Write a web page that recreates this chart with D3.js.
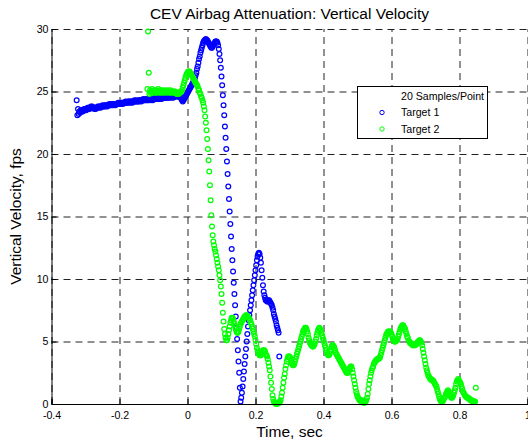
<!DOCTYPE html>
<html>
<head>
  <meta charset="utf-8">
  <title>CEV Airbag Attenuation</title>
  <script src="https://cdn.jsdelivr.net/npm/d3@7"></script>
  <style>
    body { margin: 0; background: #fff; }
    text { font-family: "Liberation Sans", Arial, sans-serif; }
  </style>
</head>
<body>
<script>
  // sample clock (s) and velocities (fps), one value every 2 ms
  var blueStart = -0.326;
  var greenStart = -0.118;
  var sampleStep = 0.002;

  var target1 = [
    24.3, 23.1, 23.6, 23.2, 23.4, 23.3, 23.5, 23.4, 23.5, 23.4,
    23.5, 23.6, 23.5, 23.6, 23.5, 23.6, 23.7, 23.6, 23.7, 23.6,
    23.7, 23.8, 23.7, 23.8, 23.7, 23.7, 23.6, 23.7, 23.6, 23.7,
    23.7, 23.8, 23.7, 23.8, 23.8, 23.7, 23.8, 23.8, 23.9, 23.8,
    23.8, 23.9, 23.8, 23.9, 23.9, 23.8, 23.9, 23.9, 24.0, 23.9,
    23.9, 24.0, 23.9, 24.0, 23.9, 24.0, 24.0, 23.9, 24.0, 24.0,
    24.0, 24.1, 24.0, 24.0, 24.1, 24.0, 24.1, 24.1, 24.0, 24.1,
    24.1, 24.1, 24.2, 24.1, 24.1, 24.2, 24.1, 24.2, 24.2, 24.1,
    24.2, 24.2, 24.1, 24.2, 24.2, 24.3, 24.2, 24.2, 24.3, 24.2,
    24.2, 24.3, 24.2, 24.3, 24.3, 24.2, 24.3, 24.3, 24.4, 24.3,
    24.3, 24.3, 24.4, 24.3, 24.3, 24.4, 24.3, 24.4, 24.4, 24.3,
    24.4, 24.4, 24.3, 24.4, 24.4, 24.5, 24.4, 24.4, 24.5, 24.4,
    24.4, 24.5, 24.4, 24.5, 24.5, 24.4, 24.5, 24.5, 24.6, 24.5,
    24.5, 24.5, 24.6, 24.5, 24.5, 24.6, 24.5, 24.6, 24.6, 24.5,
    24.6, 24.6, 24.5, 24.6, 24.6, 24.7, 24.6, 24.6, 24.7, 24.6,
    24.6, 24.7, 24.6, 24.5, 24.4, 24.3, 24.2, 24.3, 24.4, 24.5,
    24.6, 24.7, 24.8, 24.9, 25.0, 25.1, 25.2, 25.3, 25.4, 25.5,
    25.6, 25.7, 25.8, 25.9, 26.1, 26.3, 26.5, 26.8, 27.0, 27.3,
    27.6, 27.8, 28.1, 28.3, 28.5, 28.7, 28.9, 29.0, 29.1, 29.1,
    29.2, 29.1, 29.1, 29.0, 28.9, 28.8, 28.7, 28.6, 28.5, 28.5,
    28.6, 28.7, 28.8, 28.9, 29.0, 29.0, 29.0, 28.9, 28.7, 28.4,
    28.0, 27.5, 26.9, 26.2, 25.5, 24.7, 23.9, 23.1, 22.2, 21.3,
    20.4, 19.4, 18.4, 17.4, 16.4, 15.4, 14.4, 13.4, 12.4, 11.5,
    10.6, 9.7, 8.8, 7.9, 7.0, 6.1, 5.2, 4.3, 3.4, 2.5,
    1.3, 0.2, 0.5, 0.9, 1.4, 2.0, 2.6, 3.2, 3.8, 4.4,
    5.0, 5.6, 6.2, 6.7, 7.1, 7.5, 7.9, 8.3, 8.7, 9.1,
    9.5, 9.9, 10.3, 10.7, 11.1, 11.5, 11.8, 12.0, 12.1, 12.0,
    11.7, 11.3, 10.7, 10.1, 9.5, 9.0, 8.7, 8.5, 8.3, 8.3,
    8.2, 8.2, 8.3, 8.3, 8.2, 8.1, 8.0, 7.9, 7.7, 7.5,
    7.2, 7.0, 6.8, 6.6, 6.3, 6.1, 5.9, 5.7, 3.8
  ];

  var target2 = [
    25.2, 29.8, 26.5, 24.8, 25.1, 24.9, 25.0, 25.2, 24.9, 25.0,
    25.1, 24.9, 25.0, 25.1, 24.9, 25.0, 25.2, 25.0, 24.9, 25.1,
    25.0, 24.9, 25.1, 25.0, 24.9, 25.0, 25.1, 25.0, 24.9, 25.0,
    25.1, 25.0, 24.9, 25.0, 25.1, 24.9, 25.0, 25.0, 24.9, 25.0,
    24.9, 25.0, 24.9, 24.8, 24.9, 24.9, 24.8, 24.9, 24.9, 25.0,
    25.0, 25.1, 25.3, 25.5, 25.7, 25.9, 26.1, 26.3, 26.4, 26.5,
    26.6, 26.6, 26.6, 26.5, 26.4, 26.3, 26.2, 26.1, 26.0, 25.9,
    25.8, 25.7, 25.6, 25.5, 25.4, 25.2, 25.1, 24.9, 24.8, 24.6,
    24.5, 24.3, 24.1, 23.8, 23.5, 23.0, 22.5, 21.9, 21.2, 20.4,
    19.5, 18.6, 17.5, 16.3, 15.1, 14.2, 13.5, 13.0, 12.7, 12.4,
    12.2, 11.9, 11.6, 11.3, 11.0, 10.7, 10.3, 9.9, 9.4, 8.8,
    8.1, 7.3, 6.6, 6.0, 5.6, 5.3, 5.1, 5.1, 5.3, 5.6,
    5.9, 6.2, 6.5, 6.7, 6.9, 6.9, 6.8, 6.6, 6.4, 6.2,
    6.0, 5.8, 5.7, 5.7, 5.8, 6.0, 6.2, 6.4, 6.5, 6.6,
    6.7, 6.8, 6.9, 7.0, 7.0, 7.1, 7.1, 7.0, 7.0, 6.9,
    6.8, 6.7, 6.5, 6.4, 6.2, 6.0, 5.8, 5.6, 5.4, 5.1,
    4.8, 4.5, 4.3, 4.1, 4.0, 3.9, 3.9, 3.9, 4.0, 4.1,
    4.3, 4.3, 4.3, 4.2, 4.0, 3.9, 3.8, 3.6, 3.3, 3.0,
    2.7, 2.2, 1.7, 1.2, 0.7, 0.4, 0.2, 0.1, 0.1, 0.0,
    0.1, 0.0, 0.1, 0.1, 0.1, 0.2, 0.3, 0.6, 0.9, 1.3,
    1.7, 2.1, 2.4, 2.8, 3.1, 3.4, 3.6, 3.8, 3.8, 3.8,
    3.7, 3.5, 3.3, 3.2, 3.1, 3.1, 3.2, 3.4, 3.6, 3.8,
    4.0, 4.2, 4.4, 4.6, 4.8, 5.0, 5.2, 5.4, 5.6, 5.8,
    5.9, 6.0, 6.1, 6.1, 6.0, 5.8, 5.6, 5.3, 5.1, 4.9,
    4.8, 4.7, 4.7, 4.6, 4.6, 4.7, 4.8, 5.0, 5.2, 5.5,
    5.7, 5.9, 6.0, 6.1, 6.0, 5.9, 5.7, 5.5, 5.3, 5.1,
    4.9, 4.7, 4.5, 4.3, 4.1, 4.0, 3.9, 3.9, 4.0, 4.2,
    4.4, 4.6, 4.7, 4.7, 4.6, 4.5, 4.3, 4.1, 4.0, 3.9,
    3.8, 3.7, 3.6, 3.5, 3.4, 3.3, 3.2, 3.1, 3.0, 2.9,
    2.8, 2.7, 2.6, 2.5, 2.5, 2.5, 2.6, 2.8, 2.9, 3.0,
    3.0, 2.8, 2.5, 2.2, 1.9, 1.6, 1.3, 1.0, 0.8, 0.6,
    0.5, 0.4, 0.3, 0.3, 0.2, 0.2, 0.3, 0.2, 0.1, 0.1,
    0.2, 0.2, 0.3, 0.5, 0.8, 1.2, 1.6, 1.9, 2.2, 2.5,
    2.7, 2.9, 3.0, 3.2, 3.3, 3.4, 3.5, 3.5, 3.6, 3.6,
    3.6, 3.7, 3.7, 3.9, 4.1, 4.3, 4.5, 4.7, 4.9, 5.1,
    5.3, 5.5, 5.6, 5.7, 5.8, 5.8, 5.8, 5.8, 5.7, 5.6,
    5.4, 5.2, 5.1, 5.0, 5.0, 5.0, 5.1, 5.1, 5.2, 5.4,
    5.6, 5.8, 6.0, 6.1, 6.2, 6.3, 6.3, 6.2, 6.1, 6.0,
    5.8, 5.6, 5.4, 5.3, 5.1, 5.0, 4.9, 4.9, 4.8, 4.8,
    4.7, 4.7, 4.7, 4.7, 4.7, 4.8, 4.8, 4.9, 5.0, 5.0,
    5.1, 5.1, 5.0, 4.9, 4.7, 4.4, 4.1, 3.8, 3.5, 3.2,
    2.9, 2.7, 2.5, 2.3, 2.2, 2.1, 2.0, 2.0, 1.9, 1.9,
    1.9, 1.8, 1.7, 1.6, 1.5, 1.4, 1.2, 1.0, 0.8, 0.6,
    0.4, 0.3, 0.2, 0.2, 0.2, 0.3, 0.4, 0.5, 0.6, 0.8,
    0.9, 1.0, 1.1, 1.0, 0.9, 0.7, 0.6, 0.5, 0.5, 0.6,
    0.7, 0.9, 1.1, 1.3, 1.6, 1.8, 1.9, 2.0, 1.9, 1.8,
    1.7, 1.6, 1.4, 1.2, 1.0, 0.9, 0.8, 0.7, 0.6, 0.6,
    0.5, 0.5, 0.5, 0.4, 0.4, 0.3, 0.3, 0.3, 0.2, 0.2,
    0.2, 0.2, 0.2, 1.3
  ];

  var xTicks = [-0.4, -0.2, 0, 0.2, 0.4, 0.6, 0.8, 1];
  var yTicks = [0, 5, 10, 15, 20, 25, 30];
  var legendLabels = ["20 Samples/Point", "Target 1", "Target 2"];

  var width = 528;
  var height = 442;
  var plotLeft = 51.5, plotRight = 527.5, plotTop = 29, plotBottom = 404;

  var svg = d3.select("body")
    .append("svg")
    .attr("width", width)
    .attr("height", height);

  var xScale = d3.scaleLinear().domain([-0.4, 1]).range([plotLeft, plotRight]);
  var yScale = d3.scaleLinear().domain([0, 30]).range([plotBottom, plotTop]);
  var plainFormat = function(d) { return String(d); };

  // dashed grid
  svg.append("g")
    .attr("transform", "translate(0," + plotBottom + ")")
    .call(d3.axisBottom(xScale).tickValues(xTicks).tickSize(-(plotBottom - plotTop)).tickFormat(""))
    .call(function(g) {
      g.select(".domain").remove();
      g.selectAll("line").attr("stroke", "#222").attr("stroke-dasharray", "7,5");
    });
  svg.append("g")
    .attr("transform", "translate(" + plotLeft + ",0)")
    .call(d3.axisLeft(yScale).tickValues(yTicks).tickSize(-(plotRight - plotLeft)).tickFormat(""))
    .call(function(g) {
      g.select(".domain").remove();
      g.selectAll("line").attr("stroke", "#222").attr("stroke-dasharray", "7,5");
    });

  // data markers
  function drawSeries(values, start, color) {
    svg.append("g")
      .selectAll("circle")
      .data(values)
      .enter()
      .append("circle")
      .attr("cx", function(d, i) { return xScale(start + i * sampleStep); })
      .attr("cy", function(d) { return yScale(d); })
      .attr("r", 2.4)
      .attr("fill", "none")
      .attr("stroke", color)
      .attr("stroke-width", 1.2);
  }
  drawSeries(target1, blueStart, "#0000ff");
  drawSeries(target2, greenStart, "#00ff00");

  // axes
  var xAxis = svg.append("g")
    .attr("transform", "translate(0," + plotBottom + ")")
    .call(d3.axisBottom(xScale).tickValues(xTicks).tickSize(-5).tickPadding(5).tickFormat(plainFormat));
  var yAxis = svg.append("g")
    .attr("transform", "translate(" + plotLeft + ",0)")
    .call(d3.axisLeft(yScale).tickValues(yTicks).tickSize(-5).tickPadding(3).tickFormat(plainFormat));
  [xAxis, yAxis].forEach(function(g) {
    g.select(".domain").attr("stroke", "#000");
    g.selectAll("line").attr("stroke", "#000");
    g.selectAll("text").attr("font-family", "Liberation Sans, Arial, sans-serif")
      .attr("font-size", "10.6px").attr("fill", "#000");
  });
  xAxis.selectAll("text").attr("dy", "0.9em");

  // titles
  svg.append("text")
    .attr("x", (plotLeft + plotRight) / 2)
    .attr("y", 19)
    .attr("text-anchor", "middle")
    .attr("font-size", "15.5px")
    .text("CEV Airbag Attenuation: Vertical Velocity");
  svg.append("text")
    .attr("x", (plotLeft + plotRight) / 2)
    .attr("y", 437)
    .attr("text-anchor", "middle")
    .attr("font-size", "15.5px")
    .text("Time, sec");
  svg.append("text")
    .attr("transform", "translate(21," + (plotTop + plotBottom) / 2 + ") rotate(-90)")
    .attr("text-anchor", "middle")
    .attr("font-size", "15.5px")
    .text("Vertical Velocity, fps");

  // legend
  var legend = svg.append("g").attr("transform", "translate(357,86)");
  legend.append("rect")
    .attr("x", 0.5).attr("y", 0.5)
    .attr("width", 130).attr("height", 52)
    .attr("fill", "#fff").attr("stroke", "#000");
  var legendColors = [null, "#0000ff", "#00ff00"];
  legendLabels.forEach(function(label, i) {
    var cy = 10 + i * 16.5;
    legend.append("text")
      .attr("x", 44).attr("y", cy + 3.8)
      .attr("font-size", "10.6px")
      .text(label);
    if (legendColors[i]) {
      legend.append("circle")
        .attr("cx", 25).attr("cy", cy)
        .attr("r", 2.2)
        .attr("fill", "none")
        .attr("stroke", legendColors[i]);
    }
  });
</script>
</body>
</html>
